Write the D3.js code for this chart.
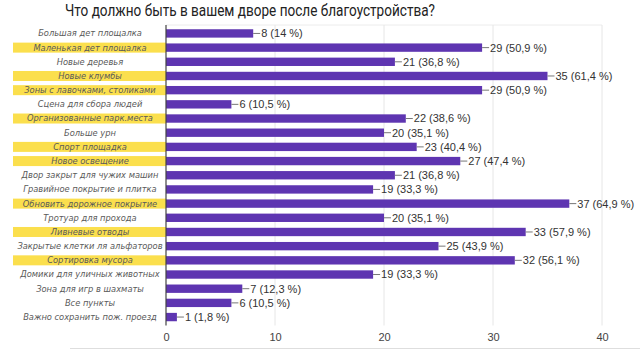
<!DOCTYPE html>
<html>
<head>
<meta charset="utf-8">
<script src="https://cdn.jsdelivr.net/npm/d3@7"></script>
<style>
  html, body { margin: 0; padding: 0; background: #fff; }
  svg { display: block; }
</style>
</head>
<body>
<svg id="chart" width="640" height="350"></svg>
<script>
// Survey answers: what residents want in the yard after renovation
const categories = [
  "Большая дет площалка",
  "Маленькая дет площалка",
  "Новые деревья",
  "Новые клумбы",
  "Зоны с лавочками, столиками",
  "Сцена для сбора людей",
  "Организованные парк.места",
  "Больше урн",
  "Спорт площадка",
  "Новое освещение",
  "Двор закрыт для чужих машин",
  "Гравийное покрытие и плитка",
  "Обновить дорожное покрытие",
  "Тротуар для прохода",
  "Ливневые отводы",
  "Закрытые клетки ля альфаторов",
  "Сортировка мусора",
  "Домики для уличных животных",
  "Зона для игр в шахматы",
  "Все пункты",
  "Важно сохранить пож. проезд"
];
const counts = [8, 29, 21, 35, 29, 6, 22, 20, 23, 27, 21, 19, 37, 20, 33, 25, 32, 19, 7, 6, 1];
const percents = ["14", "50,9", "36,8", "61,4", "50,9", "10,5", "38,6", "35,1", "40,4", "47,4",
                  "36,8", "33,3", "64,9", "35,1", "57,9", "43,9", "56,1", "33,3", "12,3", "10,5", "1,8"];
const highlighted = [
  "Маленькая дет площалка", "Новые клумбы", "Зоны с лавочками, столиками",
  "Организованные парк.места", "Спорт площадка", "Новое освещение",
  "Обновить дорожное покрытие", "Ливневые отводы", "Сортировка мусора"
];
const xTicks = [0, 10, 20, 30, 40];

const svg = d3.select("#chart");
const plotLeft = 166, plotRight = 602, plotTop = 25, plotBottom = 325.5;

const x = d3.scaleLinear().domain([0, 40]).range([plotLeft, plotRight]);
const y = d3.scaleBand().domain(categories).range([plotTop, plotBottom]).paddingInner(0.41).paddingOuter(0.3);
const mid = d => y(d) + y.bandwidth() / 2;

// Title
svg.append("text")
  .attr("x", 250).attr("y", 16)
  .attr("text-anchor", "middle")
  .attr("font-family", "Roboto, 'Noto Sans', sans-serif")
  .attr("font-size", 16.5)
  .attr("textLength", 370)
  .attr("lengthAdjust", "spacingAndGlyphs")
  .attr("fill", "#222")
  .text("Что должно быть в вашем дворе после благоустройства?");

// Plot frame top and gridlines
svg.append("line")
  .attr("x1", plotLeft).attr("x2", plotRight)
  .attr("y1", plotTop).attr("y2", plotTop)
  .attr("stroke", "#ececec");
svg.append("g")
  .selectAll("line")
  .data(xTicks.slice(1))
  .join("line")
  .attr("x1", d => x(d)).attr("x2", d => x(d))
  .attr("y1", plotTop).attr("y2", plotBottom)
  .attr("stroke", "#e6e6e6");

// Highlight strips behind some labels
svg.append("g")
  .selectAll("rect")
  .data(categories.filter(c => highlighted.includes(c)))
  .join("rect")
  .attr("x", 13)
  .attr("width", plotLeft - 13)
  .attr("y", d => mid(d) - 5)
  .attr("height", 10)
  .attr("fill", "#fbdf4d");

// Category labels
svg.append("g")
  .selectAll("text")
  .data(categories)
  .join("text")
  .attr("x", 90)
  .attr("y", mid)
  .attr("dy", "0.35em")
  .attr("text-anchor", "middle")
  .attr("font-family", "'DejaVu Sans', sans-serif")
  .attr("font-style", "italic")
  .attr("font-size", 8.3)
  .attr("fill", "#5a5a5a")
  .text(d => d);

// Bars
svg.append("g")
  .selectAll("rect")
  .data(categories)
  .join("rect")
  .attr("x", x(0))
  .attr("y", d => y(d))
  .attr("width", (d, i) => x(counts[i]) - x(0))
  .attr("height", y.bandwidth())
  .attr("fill", "#5e35b1");

// Value leaders and labels
const vals = svg.append("g");
vals.selectAll("line")
  .data(categories)
  .join("line")
  .attr("x1", (d, i) => x(counts[i]))
  .attr("x2", (d, i) => x(counts[i]) + 7)
  .attr("y1", mid)
  .attr("y2", mid)
  .attr("stroke", "#777");
vals.selectAll("text")
  .data(categories)
  .join("text")
  .attr("x", (d, i) => x(counts[i]) + 8)
  .attr("y", mid)
  .attr("dy", "0.36em")
  .attr("font-family", "Arial, 'Liberation Sans', sans-serif")
  .attr("font-size", 11)
  .attr("fill", "#333")
  .text((d, i) => `${counts[i]} (${percents[i]} %)`);

// Baseline axis line
svg.append("line")
  .attr("x1", plotLeft).attr("x2", plotLeft)
  .attr("y1", plotTop).attr("y2", plotBottom)
  .attr("stroke", "#444").attr("stroke-width", 1.2);

// Bottom axis
const xAxis = d3.axisBottom(x).tickValues(xTicks).tickSize(0).tickPadding(6);
const gx = svg.append("g")
  .attr("transform", `translate(0,${plotBottom + 2})`)
  .call(xAxis);
gx.select(".domain").remove();
gx.selectAll("text")
  .attr("font-family", "Arial, 'Liberation Sans', sans-serif")
  .attr("font-size", 11)
  .attr("fill", "#444");

// Faint page edge at the bottom
svg.append("line")
  .attr("x1", 70).attr("x2", 640)
  .attr("y1", 348.5).attr("y2", 348.5)
  .attr("stroke", "#dedede");
</script>
</body>
</html>
